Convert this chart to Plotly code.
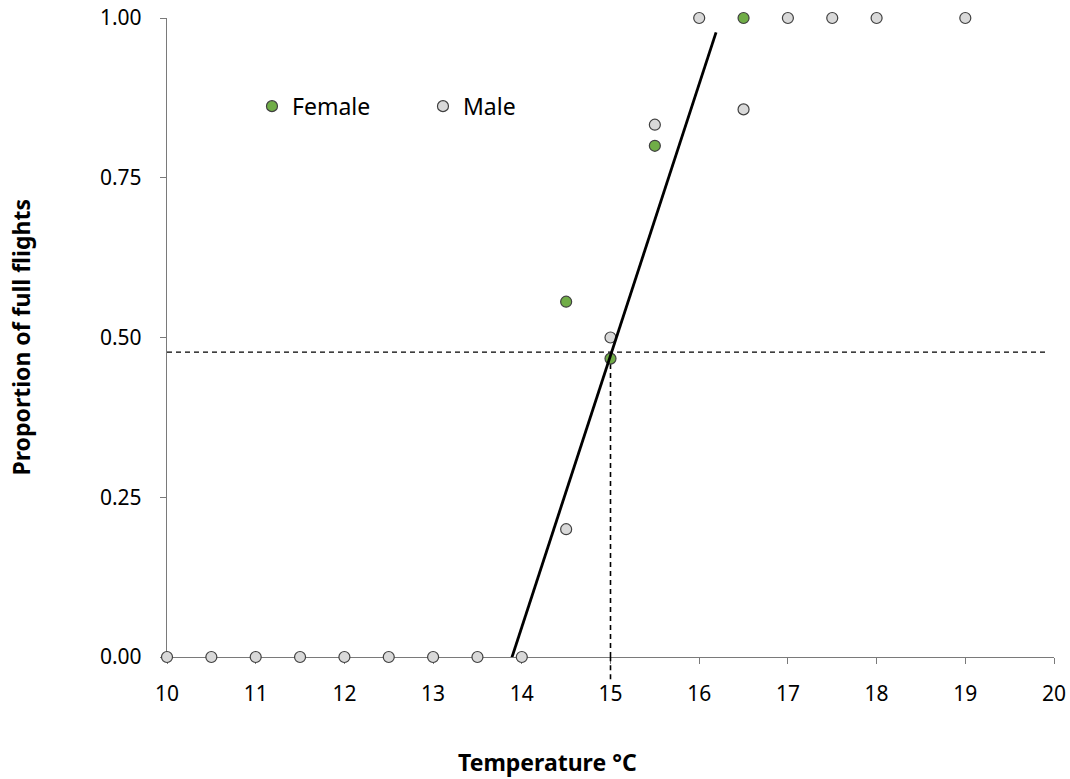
import plotly.graph_objects as go

# ---- data ----
male_temp = [10, 10.5, 11, 11.5, 12, 12.5, 13, 13.5, 14, 14.5, 15, 15.5, 16, 16.5, 17, 17.5, 18, 19]
male_prop = [0, 0, 0, 0, 0, 0, 0, 0, 0, 0.20, 0.50, 0.833, 1.0, 0.857, 1.0, 1.0, 1.0, 1.0]
female_temp = [14.5, 15, 15.5, 16.5]
female_prop = [0.556, 0.467, 0.80, 1.0]

fit_slope = 0.425        # proportion per °C
fit_x0 = 13.89           # temperature where fitted proportion = 0
fit_x_range = [13.85, 16.19]
t50 = 15.0               # threshold temperature
p50 = 0.477              # proportion at threshold
hline_x_range = [10, 19.9]
vline_y_low = -0.035

x_range = [10, 20]
y_range = [0, 1]
x_ticks = [10, 11, 12, 13, 14, 15, 16, 17, 18, 19, 20]
y_ticks = [0, 0.25, 0.5, 0.75, 1.0]
y_ticklabels = ["0.00", "0.25", "0.50", "0.75", "1.00"]

x_title = "Temperature °C"
y_title = "Proportion of full flights"

FONT = "Noto Sans"
AXIS_COL = "#7a7a7a"
DASH = dict(color="black", width=1.6, dash="5px,4px")

fit_y = [fit_slope * (x - fit_x0) for x in fit_x_range]

fig = go.Figure()

# dashed reference lines
fig.add_trace(go.Scatter(x=hline_x_range, y=[p50, p50], mode="lines",
                         line=dict(color="black", width=1.3, dash="5px,4px"),
                         showlegend=False, hoverinfo="skip", cliponaxis=False))
fig.add_trace(go.Scatter(x=[t50, t50], y=[0, p50], mode="lines", line=DASH,
                         showlegend=False, hoverinfo="skip", cliponaxis=False))
# short continuation of the vertical dashed line below the x axis (paper coords, unclipped)
t50_paper = (t50 - x_range[0]) / (x_range[1] - x_range[0])
low_paper = (vline_y_low - y_range[0]) / (y_range[1] - y_range[0])
fig.add_shape(type="line", xref="paper", yref="paper", x0=t50_paper, x1=t50_paper,
              y0=low_paper, y1=0, line=DASH, layer="above")

fig.add_trace(go.Scatter(x=male_temp, y=male_prop, mode="markers", name="Male",
                         marker=dict(size=11, color="#d9d9d9",
                                     line=dict(color="#404040", width=1.2)),
                         cliponaxis=False))
fig.add_trace(go.Scatter(x=female_temp, y=female_prop, mode="markers", name="Female",
                         marker=dict(size=11, color="#70ad47",
                                     line=dict(color="#404040", width=1.2)),
                         cliponaxis=False))

# fitted line
fig.add_trace(go.Scatter(x=fit_x_range, y=fit_y, mode="lines",
                         line=dict(color="black", width=2.8),
                         showlegend=False, hoverinfo="skip", cliponaxis=False))

fig.add_annotation(text="<b>" + x_title + "</b>", xref="paper", yref="paper",
                   x=0.4295, y=0, yshift=-105, xanchor="center", yanchor="middle",
                   showarrow=False, font=dict(family=FONT, size=23, color="black"))
fig.add_annotation(text="<b>" + y_title + "</b>", xref="paper", yref="paper",
                   x=0, y=0.5, xshift=-147, xanchor="center", yanchor="middle",
                   textangle=-90, showarrow=False,
                   font=dict(family=FONT, size=23, color="black"))

fig.update_layout(
    width=1070, height=779,
    margin=dict(l=167, r=16, t=18, b=122, autoexpand=False),
    paper_bgcolor="white", plot_bgcolor="white",
    font=dict(family=FONT, size=21, color="black"),
    showlegend=True,
    legend=dict(orientation="h", traceorder="reversed",
                x=0.0958, xanchor="left", y=0.862, yanchor="middle",
                entrywidth=126, entrywidthmode="pixels", itemwidth=30,
                font=dict(family=FONT, size=23, color="black"),
                bgcolor="rgba(0,0,0,0)"),
    xaxis=dict(range=x_range, tickvals=x_ticks, showgrid=False, zeroline=False,
               showline=True, linecolor=AXIS_COL, linewidth=1.3,
               ticks="outside", ticklen=6, tickcolor=AXIS_COL, tickwidth=1.3,
               layer="below traces", automargin=False, ticklabelstandoff=12,
               tickfont=dict(family=FONT, size=21)),
    yaxis=dict(range=y_range, tickvals=y_ticks, ticktext=y_ticklabels,
               showgrid=False, zeroline=False,
               showline=True, linecolor=AXIS_COL, linewidth=1.3,
               ticks="outside", ticklen=6, tickcolor=AXIS_COL, tickwidth=1.3,
               layer="below traces", automargin=False, ticklabelstandoff=14,
               tickfont=dict(family=FONT, size=21)),
)

fig.write_html("out.html")
